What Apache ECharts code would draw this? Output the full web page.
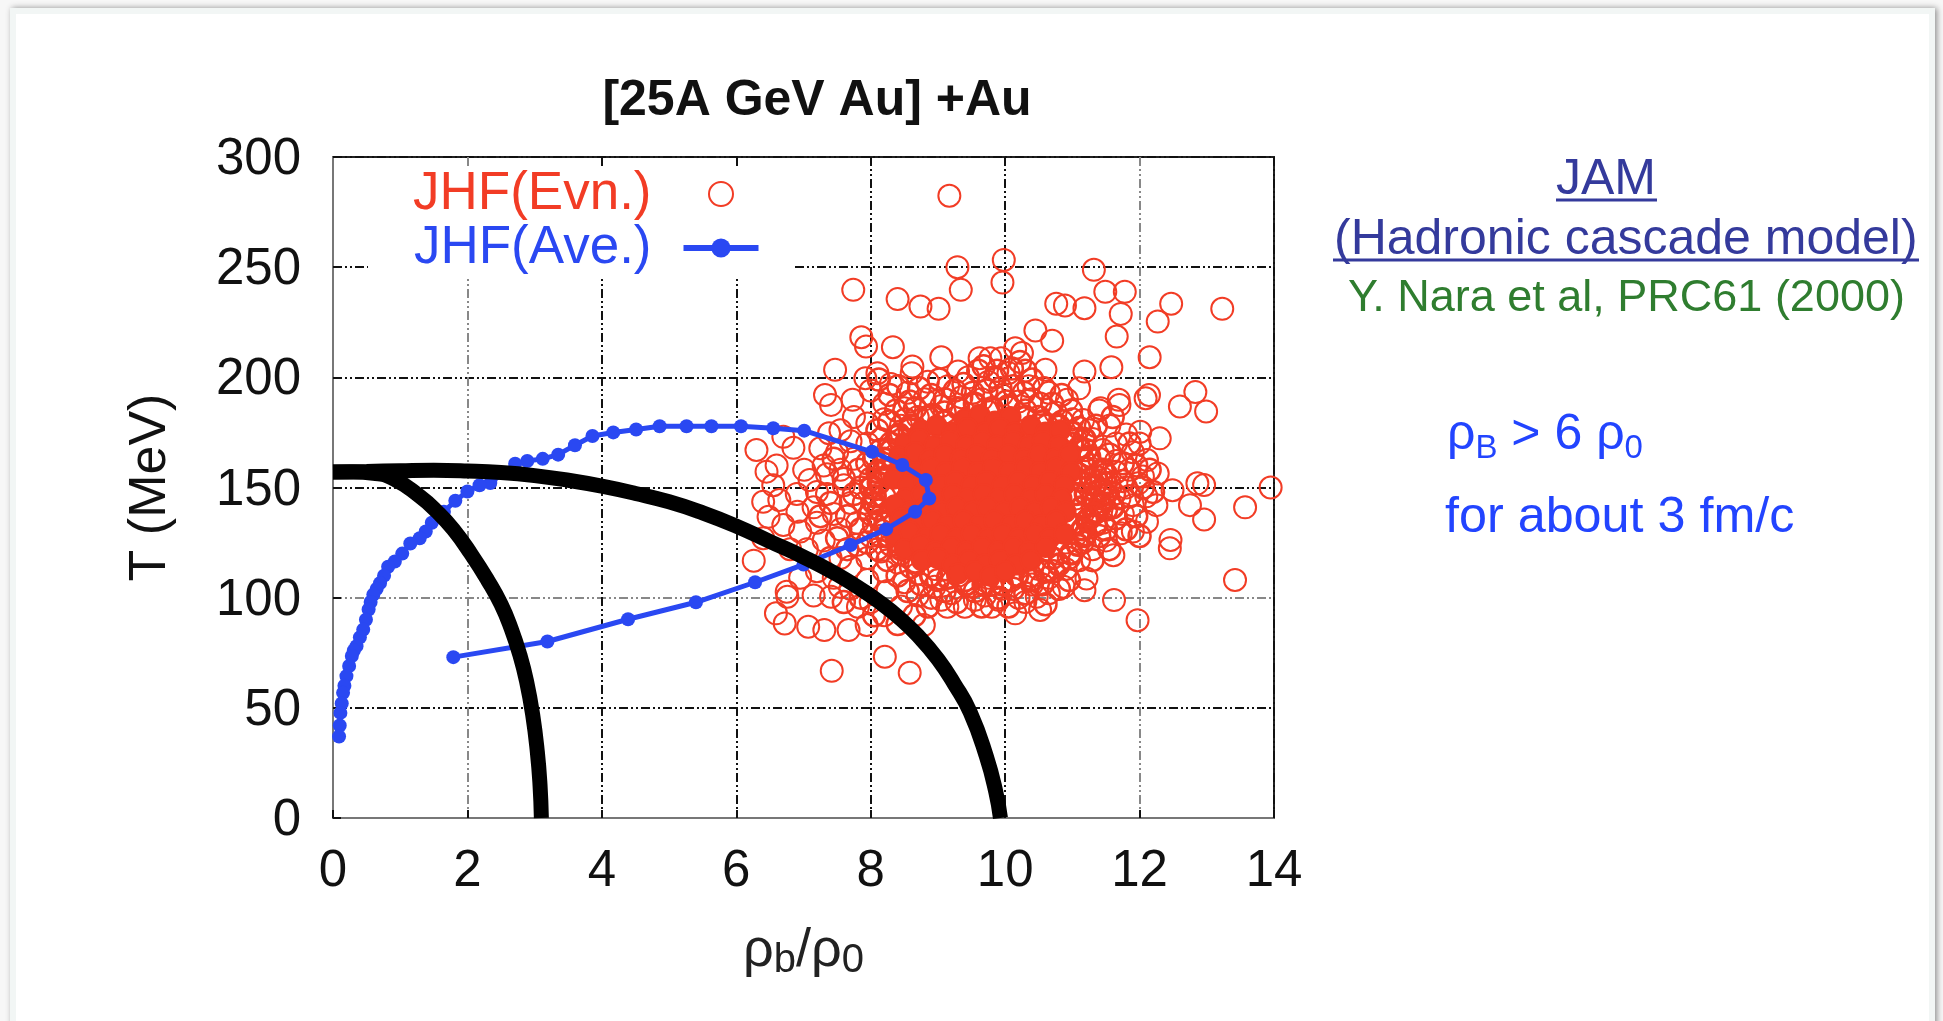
<!DOCTYPE html>
<html><head><meta charset="utf-8">
<style>
html,body{margin:0;padding:0;width:1943px;height:1021px;background:#f7f7f7;overflow:hidden}
#card{position:absolute;left:10px;top:8px;width:1925px;height:1030px;background:#fff;border:6px solid #f2f6f5;box-sizing:border-box;box-shadow:2px 0 6px #8f8f8f}
#main{position:absolute;left:0;top:0;width:1943px;height:1021px}
</style>
<script src="https://cdn.jsdelivr.net/npm/echarts@6/dist/echarts.min.js"></script>
</head><body><div id="card"></div><div id="main"></div>
<script>
const xTicks=[0,2,4,6,8,10,12,14];
const yTicks=[0,50,100,150,200,250,300];
const evnOuter=[[9.17,282.4],[9.29,250],[9.98,253.3],[9.96,243],[9.34,239.7],[7.74,239.7],[8.4,235.5],[8.74,232.1],[9.01,231.1],[11.32,248.8],[11.49,238.8],[11.78,238.8],[11.72,228.8],[11.66,218.5],[10.76,233.4],[10.89,232.6],[11.18,231.4],[12.47,233.4],[12.27,225.3],[13.23,231.1],[12.15,209.1],[10.45,221.3],[10.7,216.6],[7.86,218.2],[7.93,214],[8.33,213.7],[7.47,203.4],[9.05,209.1],[8.62,204.9],[8.1,201.9],[7.92,199.6],[10.15,213.2],[10.25,211],[9.62,208.7],[9.78,208.7],[9.94,208.7],[10.6,203.4],[11.18,202.6],[11.58,204.6],[11.1,195],[12.14,192],[12.09,190.5],[12.83,193.3],[12.6,186.8],[12.99,184.5],[7.32,192],[7.41,187.5],[7.73,189.8],[11.69,189.8],[11.42,186],[10.92,189.8],[9.3,202.6],[8.61,201.9],[12.3,172.3],[12.01,175.3],[12.49,148.8],[12.86,151.9],[12.96,151.1],[12.75,142],[12.96,135.5],[13.57,141],[13.95,150],[13.42,108],[12.46,126.2],[12.45,122.4],[12.11,134.5],[11.61,119.3],[11.72,129.2],[11.21,108.7],[11.18,103.4],[11.62,98.9],[11.97,89.8],[10.87,105],[10.52,94.4],[10.15,92.9],[10.47,100.4],[9.8,95.9],[9.4,95.9],[9.14,95.9],[8.79,87.6],[8.21,73.2],[8.58,65.9],[7.42,66.8],[7.94,87.6],[7.67,85.3],[7.31,85.3],[7.07,86.8],[6.72,88.3],[6.59,92.9],[6.76,100.4],[6.75,102.7],[6.26,116.8],[6.3,167],[6.45,157.2],[6.7,173],[6.4,143.5],[6.48,136.7],[6.91,139],[6.64,144.3],[7.01,158],[7.09,153.4],[7.25,167.8],[7.38,174.6],[7.54,105],[7.81,95.9],[7.41,100.4],[11.4,185],[11.7,187.4],[11.16,180.6],[12.11,162.5],[12.27,156.4],[11.98,151.9]];
const evnMiddle=[[8.0,194],[8.3,197],[8.55,193],[8.85,198],[9.15,196],[9.45,200],[9.75,198],[10.05,202],[10.35,196],[10.65,193],[10.4,190],[8.2,188],[8.5,186],[8.8,190],[9.05,187],[9.35,191],[9.65,190],[9.95,192],[10.2,189],[10.75,184],[11.0,181],[11.25,176],[11.55,178],[11.8,174],[7.75,182],[7.55,176],[7.95,179],[8.2,181],[8.45,178],[8.7,182],[7.3,160],[7.5,166],[7.7,171],[7.95,170],[8.15,172],[7.2,148],[7.35,156],[7.55,158],[7.75,163],[6.85,168],[6.6,160],[6.9,147],[7.15,141],[7.35,147],[7.6,151],[6.55,151],[6.7,133],[6.95,130],[7.2,134],[7.45,138],[7.7,143],[7.05,122],[7.3,126],[7.55,131],[7.8,134],[6.4,127],[6.8,122],[7.55,118],[7.8,124],[8.0,128],[7.2,112],[7.45,109],[7.7,114],[7.95,118],[8.15,121],[6.95,109],[7.15,101],[7.7,104],[7.95,108],[8.2,112],[8.4,116],[8.0,98],[8.25,103],[8.5,107],[8.7,111],[8.2,92],[8.45,96],[8.7,101],[8.95,105],[9.2,102],[9.45,105],[9.7,101],[9.95,104],[10.2,100],[10.4,106],[10.65,109],[10.9,113],[11.1,117],[10.8,120],[11.3,122],[11.5,126],[11.2,129],[11.45,134],[11.75,138],[11.9,142],[12.1,146],[12.25,142],[11.7,145],[12.05,155],[11.85,158],[11.65,162],[11.9,166],[11.65,170],[11.45,167],[11.3,160],[11.55,152],[11.8,150],[11.3,172],[11.05,172],[10.95,165],[10.9,125],[11.05,133],[10.85,139],[11.05,145],[11.3,142],[11.25,150],[11.1,156],[9.05,99],[9.55,99],[9.9,99],[10.3,98],[10.65,102],[9.3,110],[8.95,113],[9.75,109],[10.1,108],[10.5,113],[10.25,117],[11.9,130],[12.0,170],[11.15,163]];
const evnFringe=[[8.12,199],[8.28,192],[8.41,196],[8.58,189],[8.72,195],[8.9,192],[9.02,199],[9.1,190],[9.25,194],[9.38,197],[9.52,193],[9.6,203],[9.72,194],[9.85,200],[9.93,195],[10.02,189],[10.12,196],[10.28,193],[10.4,199],[10.52,188],[10.58,195],[10.7,188],[10.84,192],[9.68,205],[9.88,203],[10.1,204],[10.22,207],[10.3,203],[8.38,185],[8.52,181],[8.66,186],[8.92,183],[9.1,184],[10.3,185],[10.5,182],[10.62,178],[10.85,180],[10.98,185],[11.1,177],[8.1,176],[8.28,180],[8.4,173],[8.58,176],[8.15,167],[8.3,170],[8.05,163],[7.82,158],[7.95,161],[8.0,154],[7.85,150],[7.75,147],[7.9,143],[8.0,138],[7.65,137],[7.85,131],[8.05,133],[8.15,128],[7.95,125],[8.1,122],[8.3,124],[8.25,117],[8.45,120],[8.4,110],[8.6,114],[8.55,103],[8.75,106],[8.32,139],[8.2,146],[8.28,155],[7.6,154],[7.45,163],[7.4,143],[7.5,127],[7.25,137],[7.65,122],[7.4,118],[8.9,100],[9.0,108],[9.1,103],[9.28,98],[9.4,108],[9.55,103],[9.65,96],[9.8,106],[9.9,100],[10.05,96],[10.12,104],[10.3,102],[10.38,110],[10.55,106],[10.6,97],[10.72,112],[10.8,104],[10.95,108],[10.95,118],[10.7,118],[8.85,96],[8.65,92],[8.4,88],[8.05,92],[7.85,100],[7.6,98],[11.15,125],[11.3,117],[11.4,128],[11.55,122],[11.25,136],[11.5,131],[11.65,136],[11.8,131],[11.5,140],[11.62,147],[11.75,153],[11.5,156],[11.65,157],[11.85,146],[11.95,137],[11.4,163],[11.55,165],[11.75,161],[11.85,170],[11.35,178],[11.6,182],[11.2,167],[11.95,160],[11.35,155],[11.45,145],[12.05,150],[12.15,158],[12.2,148],[12.0,128]];
const evnThick=[[11.0,170],[11.2,159],[11.12,153],[11.34,151],[11.06,147],[11.3,145],[11.5,147],[11.14,141],[11.36,139],[11.0,133],[11.22,135],[8.2,158],[8.12,152],[8.06,146],[8.28,148],[8.12,140],[8.22,134],[11.45,158],[11.25,164],[11.42,142],[11.6,141],[11.18,128],[11.35,133],[8.6,178],[8.85,182],[9.1,180],[9.3,186],[9.55,188],[9.8,186],[10.05,187],[10.3,182],[10.55,180],[10.8,178],[11.0,175],[11.1,168],[11.18,172],[11.28,154],[11.42,149],[11.2,147],[11.5,152],[11.32,138],[11.15,131],[11.08,124],[10.98,120],[10.8,115],[10.6,112],[10.4,108],[10.18,110],[9.95,106],[9.68,106],[9.42,106],[9.15,109],[8.9,110],[8.66,116],[8.45,122],[8.25,128],[8.14,135],[8.05,143],[8.0,150],[8.1,157],[8.2,163],[8.3,167],[8.42,174]];
const evnCore=[[9.4,181],[9.62,183],[9.85,180],[10.08,182],[8.75,176],[8.98,178],[9.22,175],[9.44,177],[9.7,175],[9.92,177],[10.15,175],[10.38,178],[10.6,175],[10.82,176],[8.5,170],[8.72,172],[8.95,169],[9.18,171],[9.42,169],[9.66,171],[9.88,169],[10.12,171],[10.35,169],[10.56,171],[10.8,169],[8.42,164],[8.66,166],[8.88,163],[9.1,165],[9.34,163],[9.58,165],[9.8,163],[10.05,165],[10.28,163],[10.5,165],[10.74,163],[10.96,165],[8.44,160],[8.66,157],[8.9,159],[9.12,157],[9.36,159],[9.6,157],[9.82,159],[10.06,157],[10.3,159],[10.52,157],[10.76,159],[10.98,157],[8.34,154],[8.56,151],[8.8,153],[9.04,151],[9.26,153],[9.5,151],[9.72,153],[9.96,151],[10.2,153],[10.42,151],[10.66,153],[10.88,151],[8.52,145],[8.76,147],[8.98,145],[9.22,147],[9.44,145],[9.68,147],[9.9,145],[10.14,147],[10.38,145],[10.6,147],[10.84,145],[8.36,142],[8.58,139],[8.82,141],[9.06,139],[9.28,141],[9.52,139],[9.74,141],[9.98,139],[10.22,141],[10.44,139],[10.68,141],[10.9,139],[8.46,136],[8.68,133],[8.92,135],[9.14,133],[9.38,135],[9.62,133],[9.84,135],[10.08,133],[10.3,135],[10.54,133],[10.76,135],[8.36,128],[8.58,130],[8.82,127],[9.04,129],[9.28,127],[9.5,129],[9.74,127],[9.96,129],[10.2,127],[10.44,129],[10.66,127],[10.88,129],[8.5,122],[8.74,124],[8.96,121],[9.2,123],[9.42,121],[9.66,123],[9.9,121],[10.12,123],[10.36,121],[10.6,123],[8.76,117],[9.0,118],[9.22,115],[9.46,117],[9.7,115],[9.92,117],[10.16,115],[10.38,117],[9.3,111],[9.55,112],[9.78,110],[10.0,112]];
const aveRho=[1.79,3.19,4.39,5.4,6.28,7.0,7.7,8.23,8.66,8.87,8.82,8.47,8.02,7.01,6.55,6.07,5.63,5.26,4.86,4.51,4.17,3.86,3.6,3.35,3.12,2.89,2.71,2.34,2.18,2.0,1.82,1.65,1.47,1.38,1.29,1.15,1.03,0.92,0.82,0.76,0.7,0.65,0.6,0.56,0.53,0.49,0.45,0.4,0.35,0.31,0.28,0.24,0.2,0.17,0.15,0.13,0.11,0.1,0.09];
const aveT=[73,80.1,90.2,97.9,107,115,123.9,131.1,139,145,153.4,160.2,166.2,175.8,176.9,177.8,177.8,177.8,177.8,176.3,175,173.4,169.2,164.9,163,162,160.8,152,151,148.2,144,139,134,130,127,124.6,120,116.4,114,110,106.6,104,101.4,98,94.6,90,85.5,82,78,76,73.5,69,64.4,60,56.8,52,47.7,42,37];
const boundOuterRho=[0,0.5,1,1.5,2,2.5,3,3.5,4,4.5,5,5.5,6,6.5,7,7.5,7.92,8.13,8.4,8.71,9,9.24,9.48,9.72,9.86,9.93];
const boundOuterT=[157,157.3,157.6,157.8,157.5,156.8,155.4,153.3,150.6,147.3,143.5,138.5,132.5,125.5,118.5,110.5,102.5,98,91.5,82.5,72,61,48,28,12,0];
const boundInnerRho=[0,0.3,0.6,0.9,1.29,1.55,1.79,2.05,2.3,2.5,2.65,2.78,2.88,2.97,3.04,3.08,3.1];
const boundInnerT=[157,157,156.5,154,146,139,131,120,108,97,86,74,62,47,30,15,0];
const titleText='[25A GeV Au] +Au';
const RED='#f23c25',BLUE='#2a48f2',FONT='"Liberation Sans",Arial,sans-serif';
const zip=(a,b)=>a.map((v,i)=>[v,b[i]]);
const gridDash=[9,3,2,3,2,3];
const chart=echarts.init(document.getElementById('main'),null,{renderer:'canvas'});
function ring(name,data,w,z,fill,size){return {name,type:'scatter',data,symbol:'circle',symbolSize:size||22,z,clip:true,
  itemStyle:{color:fill||'transparent',borderColor:RED,borderWidth:w,opacity:1},silent:true};}
chart.setOption({
 animation:false,backgroundColor:'transparent',
 title:{text:titleText,left:812,top:71,textAlign:'center',textStyle:{fontFamily:FONT,fontSize:50,fontWeight:'bold',color:'#111'}},
 grid:{left:333,top:157,width:941,height:661,show:true,borderColor:'#222',borderWidth:2,backgroundColor:'transparent'},
 legend:{left:368,top:167,align:'right',orient:'vertical',itemWidth:75,itemHeight:24,itemGap:0,padding:[0,33,1,45],backgroundColor:'#fff',z:3,selectedMode:false,
  textStyle:{fontFamily:FONT,fontSize:53,lineHeight:48,padding:[6,27,0,0]},
  data:[{name:'JHF(Evn.)',textStyle:{color:RED}},{name:'JHF(Ave.)',textStyle:{color:BLUE},lineStyle:{color:BLUE,width:6}}]},
 xAxis:{type:'value',min:0,max:14,interval:2,
  name:'{a|ρ}{s|b}{a|/ρ}{s|0}',nameLocation:'middle',nameGap:103,
  nameTextStyle:{rich:{a:{fontFamily:FONT,fontSize:54,lineHeight:60,color:'#222'},s:{fontFamily:FONT,fontSize:40,lineHeight:16,verticalAlign:'bottom',color:'#222'}}},
  axisLine:{show:true,onZero:false,lineStyle:{color:'#777',width:2}},
  axisTick:{inside:true,length:8,lineStyle:{color:'#111',width:2}},
  axisLabel:{margin:28,fontFamily:FONT,fontSize:51,color:'#111',customValues:xTicks},
  splitLine:{show:true,lineStyle:{type:gridDash,width:2,color:['#888','#888','#111','#111','#111','#111','#888','#111']}}},
 yAxis:{type:'value',min:0,max:300,interval:50,
  name:'T (MeV)',nameLocation:'middle',nameGap:156,
  nameTextStyle:{fontFamily:FONT,fontSize:52,color:'#111'},
  axisLine:{show:true,onZero:false,lineStyle:{color:'#777',width:2}},
  axisTick:{inside:true,length:8,lineStyle:{color:'#111',width:2}},
  axisLabel:{margin:32,color:'#111',customValues:yTicks,formatter:'{v|{value}}',
   rich:{v:{fontFamily:FONT,fontSize:51,color:'#111',padding:[6,0,0,0]}}},
  splitLine:{show:true,lineStyle:{type:gridDash,width:2,color:['#111','#111','#888','#111','#111','#111','#111']}}},
 series:[
  ring('JHF(Evn.)',evnOuter,2,2),
  ring('JHF(Evn.)',evnMiddle,2,2),
  ring('JHF(Evn.)',evnFringe,2.5,2),
  ring('JHF(Evn.)',evnThick,3.5,2,null,21),
  ring('JHF(Evn.)',evnCore,2,2,RED,20),
  {name:'JHF(Ave.)',type:'line',data:zip(aveRho,aveT),symbol:'circle',symbolSize:14,showSymbol:true,showAllSymbols:true,z:4,
   lineStyle:{color:BLUE,width:5},itemStyle:{color:BLUE},silent:true},
  {name:'outer',type:'line',data:zip(boundOuterRho,boundOuterT),smooth:0.5,symbol:'none',z:5,lineStyle:{color:'#000',width:15,cap:'butt'},silent:true},
  {name:'inner',type:'line',data:zip(boundInnerRho,boundInnerT),smooth:0.5,symbol:'none',z:5,lineStyle:{color:'#000',width:15,cap:'butt'},silent:true}
 ],
 graphic:[
  {type:'text',left:1556,top:155,style:{text:'JAM',fontFamily:FONT,fontSize:50,fill:'#343a9c'}},
  {type:'line',shape:{x1:1556,y1:200,x2:1657,y2:200},style:{stroke:'#343a9c',lineWidth:3}},
  {type:'text',left:1334,top:215,style:{text:'(Hadronic cascade model)',fontFamily:FONT,fontSize:50,fill:'#343a9c'}},
  {type:'line',shape:{x1:1333,y1:260,x2:1919,y2:260},style:{stroke:'#343a9c',lineWidth:3}},
  {type:'text',left:1348,top:276,style:{text:'Y. Nara et al, PRC61 (2000)',fontFamily:FONT,fontSize:45,fill:'#2f7d2f'}},
  {type:'text',left:1447,top:410,style:{text:'{a|ρ}{s|B}{a| > 6 ρ}{s|0}',rich:{a:{fontFamily:FONT,fontSize:50,lineHeight:60,fill:'#2244ff'},s:{fontFamily:FONT,fontSize:33,lineHeight:20,verticalAlign:'bottom',fill:'#2244ff'}}}},
  {type:'text',left:1445,top:493,style:{text:'for about 3 fm/c',fontFamily:FONT,fontSize:50.3,fill:'#2244ff'}}
 ]
});
</script></body></html>
